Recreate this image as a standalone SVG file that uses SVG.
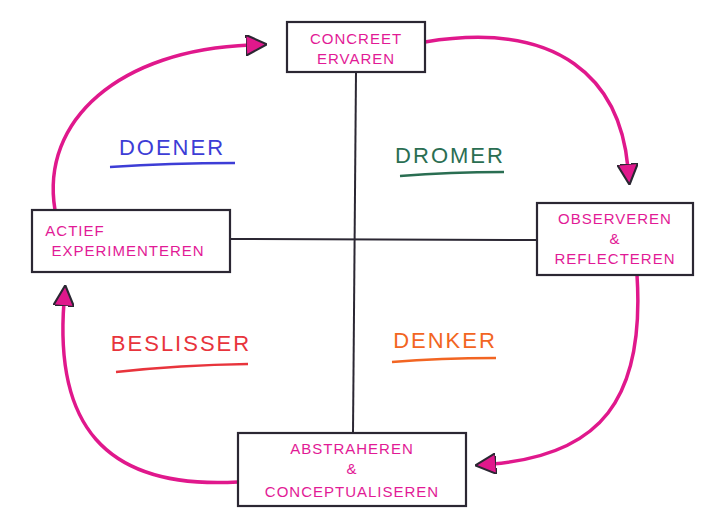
<svg xmlns="http://www.w3.org/2000/svg" width="707" height="522" viewBox="0 0 707 522">
<style>
.box{fill:#fff;stroke:#2b2733;stroke-width:2.2}
.t{font-family:"Liberation Sans",Arial,sans-serif;fill:#e21a96;font-size:15px;text-anchor:middle;letter-spacing:1px}
.lab{font-family:"Liberation Sans",Arial,sans-serif;font-size:22px;text-anchor:middle;letter-spacing:2px}
.arc{fill:none;stroke:#e0188c;stroke-width:3.5}
.ax{stroke:#2b2733;stroke-width:2;fill:none}
</style>
<defs>
<marker id="ah" viewBox="0 0 10 10" refX="2" refY="5" markerWidth="6" markerHeight="6" orient="auto" markerUnits="strokeWidth">
<path d="M0,0 L10,5 L0,10 Z" fill="#e0188c" stroke="#2b2733" stroke-width="1"/>
</marker>
</defs>
<rect width="707" height="522" fill="#fff"/>
<g id="connectors">
<path class="ax" d="M356,72 L353,433"/>
<path class="ax" d="M230,239 L537,240"/>
<path class="arc" d="M425,42 C560,20 620,80 628,168" marker-end="url(#ah)"/>
<path class="arc" d="M637,275 C645,400 600,455 492,464" marker-end="url(#ah)"/>
<path class="arc" d="M238,482 C100,490 55,420 64,302" marker-end="url(#ah)"/>
<path class="arc" d="M55,210 C40,120 120,50 250,45" marker-end="url(#ah)"/>
</g>
<g id="concreet"><rect class="box" x="287" y="22" width="138" height="50"/>
<text class="t" x="356" y="44">CONCREET</text><text class="t" x="356" y="64">ERVAREN</text></g>
<g id="actief"><rect class="box" x="32" y="210" width="198" height="62"/>
<text class="t" x="75" y="236">ACTIEF</text><text class="t" x="128" y="256">EXPERIMENTEREN</text></g>
<g id="observeren"><rect class="box" x="537" y="203" width="156" height="72"/>
<text class="t" x="615" y="224">OBSERVEREN</text><text class="t" x="615" y="244">&amp;</text><text class="t" x="615" y="264">REFLECTEREN</text></g>
<g id="abstraheren"><rect class="box" x="238" y="433" width="228" height="73"/>
<text class="t" x="352" y="454">ABSTRAHEREN</text><text class="t" x="352" y="474">&amp;</text><text class="t" x="352" y="497">CONCEPTUALISEREN</text></g>
<g id="doener"><text class="lab" x="172" y="155" fill="#3d3dd6">DOENER</text><path d="M110,167 Q170,163 235,163" stroke="#3d3dd6" stroke-width="2.5" fill="none"/></g>
<g id="dromer"><text class="lab" x="450" y="163" fill="#2a6e52">DROMER</text><path d="M400,176 Q450,172 504,172" stroke="#2a6e52" stroke-width="2.5" fill="none"/></g>
<g id="beslisser"><text class="lab" x="181" y="351" fill="#e8343c">BESLISSER</text><path d="M116,372 Q180,365 248,364" stroke="#e8343c" stroke-width="2.5" fill="none"/></g>
<g id="denker"><text class="lab" x="445" y="348" fill="#f26522">DENKER</text><path d="M392,362 Q440,358 496,358" stroke="#f26522" stroke-width="2.5" fill="none"/></g>
</svg>
